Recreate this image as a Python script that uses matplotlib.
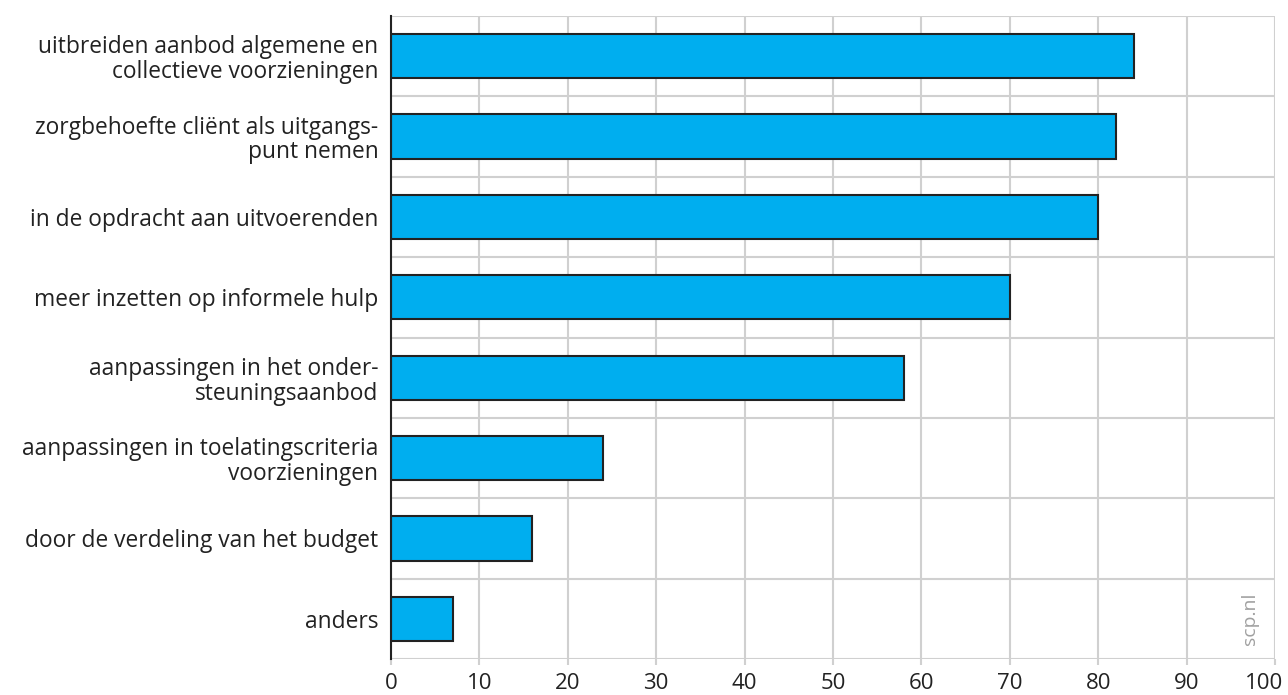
import matplotlib
matplotlib.use("Agg")
import matplotlib.pyplot as plt
import matplotlib.transforms as mtransforms
import numpy as np

categories = [
    "uitbreiden aanbod algemene en\ncollectieve voorzieningen",
    "zorgbehoefte cliënt als uitgangs-\npunt nemen",
    "in de opdracht aan uitvoerenden",
    "meer inzetten op informele hulp",
    "aanpassingen in het onder-\nsteuningsaanbod",
    "aanpassingen in toelatingscriteria\nvoorzieningen",
    "door de verdeling van het budget",
    "anders",
]
values = [84, 82, 80, 70, 58, 24, 16, 7]
xticks = [0, 10, 20, 30, 40, 50, 60, 70, 80, 90, 100]

plt.rcParams['font.family'] = ['Open Sans', 'DejaVu Sans']

fig = plt.figure(figsize=(12.88, 6.95), dpi=100)
ax = fig.add_axes([391/1288, 1-659/695, (1275-391)/1288, (659-16)/695])

y = np.arange(len(categories))
ax.barh(y, values, height=0.55, color="#00aeef", edgecolor="#222222", linewidth=1.5, zorder=3)

ax.set_xlim(0, 100)
ax.set_ylim(len(categories)-0.5, -0.5)
ax.set_xticks(xticks)
ax.set_xticklabels([str(t) for t in xticks], fontsize=16, color="#222222")
ax.set_yticks(y)
ax.set_yticklabels(categories, fontsize=16.4, color="#222222", linespacing=1.05)
ax.set_yticks(np.arange(-0.5, len(categories), 1.0), minor=True)

ax.tick_params(axis='y', which='both', length=0, pad=9)
ax.tick_params(axis='x', which='major', length=4, width=1.5, color="#d0d0d0", pad=6)

ax.grid(axis='x', which='major', color="#d0d0d0", linewidth=1.5, zorder=0)
ax.grid(axis='y', which='minor', color="#d0d0d0", linewidth=1.5, zorder=0)
ax.set_axisbelow(True)

for s in ['top', 'right', 'bottom']:
    ax.spines[s].set_visible(False)
ax.spines['left'].set_color("#222222")
ax.spines['left'].set_linewidth(1.5)
ax.spines['left'].set_zorder(4)

# keep the last tick label inside the figure
last = ax.get_xticklabels()[-1]
last.set_horizontalalignment('right')
last.set_transform(last.get_transform() + mtransforms.ScaledTranslation(8/100, 0, fig.dpi_scale_trans))

ax.text(0.972, 0.022, "scp.nl", transform=ax.transAxes, rotation=90,
        ha='center', va='bottom', fontsize=14, color="#a0a0a0")

fig.savefig("out.png", dpi=100)
